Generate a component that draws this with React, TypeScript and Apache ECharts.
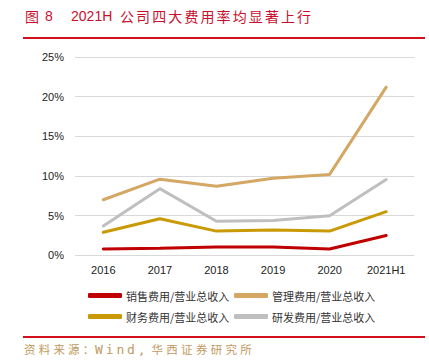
import React, { useEffect, useRef } from "react";
import * as echarts from "echarts";

const categories = ["2016", "2017", "2018", "2019", "2020", "2021H1"];
const salesRatio = [0.8, 0.9, 1.05, 1.05, 0.8, 2.5];
const adminRatio = [7.0, 9.6, 8.7, 9.7, 10.2, 21.2];
const financeRatio = [2.9, 4.6, 3.05, 3.2, 3.05, 5.5];
const rdRatio = [3.7, 8.4, 4.3, 4.4, 5.0, 9.55];
const seriesNames = [
  "销售费用/营业总收入",
  "管理费用/营业总收入",
  "财务费用/营业总收入",
  "研发费用/营业总收入",
];
const seriesColors = ["#C00000", "#D5A765", "#C99A06", "#BFBFBF"];
const titleParts = ["图", "8", "2021H", "公司四大费用率均显著上行"];
const sourceParts = ["资料来源：", "Wind,", "华西证券研究所"];

type Seg = { text: string; x: number; advance: number; font: string; size: number };

function spaced(segs: Seg[], y: number, fill: string) {
  const out: any[] = [];
  segs.forEach((s) => {
    const chars = Array.from(s.text);
    chars.forEach((c, i) => {
      out.push({
        type: "text",
        x: s.x + i * s.advance,
        y,
        silent: true,
        style: {
          text: c,
          fill,
          fontSize: s.size,
          fontFamily: s.font,
          verticalAlign: "middle",
          align: "left",
        },
      });
    });
  });
  return out;
}

export default function App() {
  const ref = useRef<HTMLDivElement>(null);
  useEffect(() => {
    if (!ref.current) return;
    const chart = echarts.init(ref.current, undefined, { renderer: "svg" });
    const values = [salesRatio, adminRatio, financeRatio, rdRatio];
    const legendPos = [
      { left: 88, top: 290 },
      { left: 234, top: 290 },
      { left: 88, top: 311 },
      { left: 234, top: 311 },
    ];
    const titleEls = spaced(
      [
        { text: titleParts[0], x: 25, advance: 14, font: "Noto Sans CJK SC", size: 14 },
        { text: titleParts[1], x: 45, advance: 8, font: "Liberation Sans", size: 14 },
        { text: titleParts[2], x: 71, advance: 7.8, font: "Liberation Sans", size: 14 },
        { text: titleParts[3], x: 120, advance: 16.1, font: "Noto Sans CJK SC", size: 14 },
      ],
      15.5,
      "#C8102E"
    );
    const sourceEls = spaced(
      [
        { text: sourceParts[0], x: 24, advance: 14.7, font: "Noto Sans CJK SC", size: 11.5 },
        { text: sourceParts[1], x: 95, advance: 10.7, font: "DejaVu Sans Mono", size: 13 },
        { text: sourceParts[2], x: 151.5, advance: 14.8, font: "Noto Sans CJK SC", size: 11.5 },
      ],
      349,
      "#C09A60"
    );
    chart.setOption({
      animation: false,
      backgroundColor: "#ffffff",
      grid: { left: 75, right: 14.5, top: 57, bottom: 107.7 },
      legend: seriesNames.map((n, i) => ({
        data: [n],
        left: legendPos[i].left,
        top: legendPos[i].top,
        padding: 0,
        icon: "roundRect",
        itemWidth: 34,
        itemHeight: 5,
        itemGap: 0,
        textStyle: {
          fontSize: 11,
          color: "#333",
          fontFamily: "Noto Sans CJK SC",
          padding: [0, 0, 0, -1],
        },
        selectedMode: false,
      })),
      xAxis: {
        type: "category",
        data: categories,
        boundaryGap: true,
        axisLine: { show: false },
        axisTick: { show: false },
        axisLabel: {
          color: "#222",
          fontSize: 11,
          margin: 9,
          fontFamily: "Liberation Sans",
        },
      },
      yAxis: {
        type: "value",
        min: 0,
        max: 25,
        interval: 5,
        axisLine: { show: false },
        axisTick: { show: false },
        axisLabel: {
          formatter: "{value}%",
          color: "#222",
          fontSize: 11,
          margin: 11,
          fontFamily: "Liberation Sans",
        },
        splitLine: { lineStyle: { color: "#D9D9D9", width: 1 } },
      },
      series: seriesNames.map((n, i) => ({
        name: n,
        type: "line",
        data: values[i],
        showSymbol: false,
        symbol: "none",
        color: seriesColors[i],
        lineStyle: { width: 3, color: seriesColors[i], cap: "round" },
      })),
      graphic: [
        ...titleEls,
        {
          type: "rect",
          shape: { x: 23, y: 37, width: 402, height: 2 },
          style: { fill: "#D0101B" },
        },
        {
          type: "rect",
          shape: { x: 23, y: 336, width: 402, height: 2 },
          style: { fill: "#D0101B" },
        },
        ...sourceEls,
      ],
    });
    return () => chart.dispose();
  }, []);
  return <div ref={ref} style={{ width: 429, height: 363, position: "fixed", left: 0, top: 0 }} />;
}
